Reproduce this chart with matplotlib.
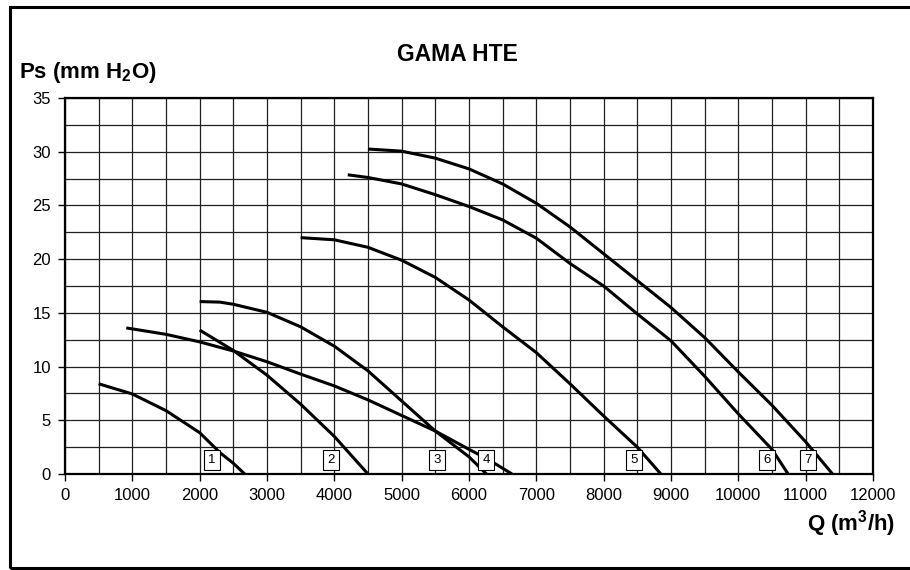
import matplotlib
matplotlib.use("Agg")
import matplotlib.pyplot as plt
from matplotlib.patches import Rectangle
from matplotlib.ticker import MultipleLocator

plt.rcParams['font.family'] = ['Liberation Sans', 'DejaVu Sans']
plt.rcParams['mathtext.fontset'] = 'custom'
plt.rcParams['mathtext.rm'] = 'Liberation Sans'
plt.rcParams['mathtext.bf'] = 'Liberation Sans:bold'

# fan curves (Q in m3/h, Ps in mm H2O)
q1 = [500, 1000, 1500, 2000, 2300, 2500, 2670]
p1 = [8.4, 7.45, 5.9, 3.85, 2.0, 1.0, 0.0]

q2 = [2000, 2500, 3000, 3500, 4000, 4500]
p2 = [13.4, 11.5, 9.2, 6.5, 3.5, 0.0]

q3 = [2000, 2300, 2500, 3000, 3500, 4000, 4500, 5000, 5500, 6000, 6260]
p3 = [16.05, 16.0, 15.8, 15.05, 13.7, 11.9, 9.6, 6.8, 4.0, 1.6, 0.0]

q4 = [910, 1500, 2000, 2500, 3000, 3500, 4000, 4500, 5000, 5500, 6000, 6300, 6640]
p4 = [13.6, 13.0, 12.3, 11.45, 10.45, 9.3, 8.2, 6.9, 5.45, 4.0, 2.3, 1.3, 0.0]

q5 = [3500, 4000, 4500, 5000, 5500, 6000, 6500, 7000, 7500, 8000, 8500, 8850]
p5 = [22.0, 21.8, 21.1, 19.9, 18.3, 16.2, 13.7, 11.3, 8.4, 5.4, 2.5, 0.0]

q6 = [4200, 4500, 5000, 5500, 6000, 6500, 7000, 7500, 8000, 8500, 9000, 9500, 10000, 10500, 10740]
p6 = [27.85, 27.6, 27.0, 26.0, 24.9, 23.65, 21.95, 19.6, 17.5, 14.9, 12.4, 9.1, 5.6, 2.3, 0.0]

q7 = [4500, 5000, 5500, 6000, 6500, 7000, 7500, 8000, 8500, 9000, 9500, 10000, 10500, 11000, 11400]
p7 = [30.25, 30.05, 29.4, 28.4, 27.0, 25.2, 23.0, 20.5, 18.0, 15.5, 12.7, 9.5, 6.4, 3.0, 0.0]

curves = [(q1, p1), (q2, p2), (q3, p3), (q4, p4), (q5, p5), (q6, p6), (q7, p7)]

label_text = ['1', '2', '3', '4', '5', '6', '7']
label_q = [2183, 3950, 5525, 6253, 8450, 10427, 11035]
label_p = [1.3, 1.3, 1.3, 1.3, 1.3, 1.3, 1.3]

fig = plt.figure(figsize=(9.1, 5.7), dpi=100)
ax = fig.add_axes([0.0714, 0.1684, 0.8879, 0.6597])

for q, p in curves:
    ax.plot(q, p, color='black', lw=2.2, solid_capstyle='butt', zorder=3)

for t, x, y in zip(label_text, label_q, label_p):
    ax.text(x, y, t, fontsize=9.5, ha='center', va='center', zorder=4,
            bbox=dict(boxstyle='square,pad=0.3', fc='white', ec='black', lw=0.8))

ax.set_xlim(0, 12000)
ax.set_ylim(0, 35)
ax.xaxis.set_major_locator(MultipleLocator(1000))
ax.xaxis.set_minor_locator(MultipleLocator(500))
ax.yaxis.set_major_locator(MultipleLocator(5))
ax.yaxis.set_minor_locator(MultipleLocator(2.5))
ax.grid(which='both', color='#202020', lw=0.9)
ax.set_axisbelow(True)
ax.tick_params(which='major', direction='out', length=5, width=1, labelsize=12, pad=5)
ax.tick_params(which='minor', length=0)
for s in ax.spines.values():
    s.set_linewidth(1.6)
    s.set_color('black')

fig.text(0.503, 0.905, 'GAMA HTE', fontsize=16.5, fontweight='bold', ha='center', va='center')
fig.text(0.021, 0.873, r'Ps (mm H$_\mathbf{2}$O)', fontsize=16, fontweight='bold',
         ha='left', va='center')
fig.text(0.984, 0.082, r'Q (m$^\mathbf{3}$/h)', fontsize=16, fontweight='bold',
         ha='right', va='center')

fig.patches.append(Rectangle((0.0105, 0.003), 1.1, 0.984, transform=fig.transFigure,
                             fill=False, ec='black', lw=2.2))

fig.savefig('out.png', dpi=100)
